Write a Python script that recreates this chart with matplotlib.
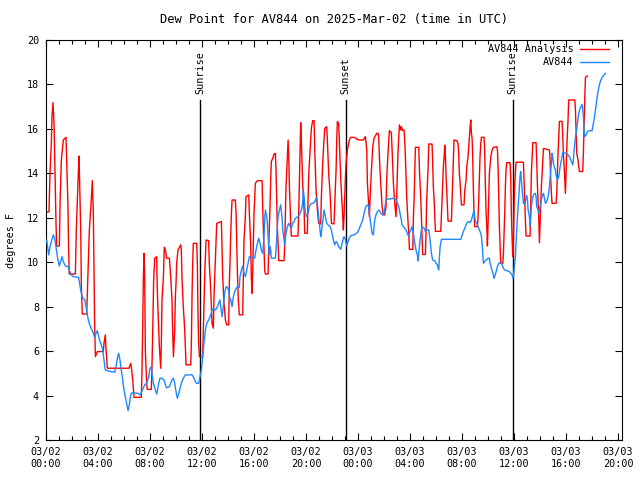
import matplotlib
matplotlib.use('Agg')
import matplotlib.pyplot as plt
import matplotlib.dates as mdates
from datetime import datetime, timedelta

# hours since 2025-03-02 00:00 UTC, dew point in F
analysis_hours = [0.05, 0.23, 0.31, 0.41, 0.46, 0.54, 0.62, 0.69, 0.77, 0.82, 1.03, 1.08, 1.18, 1.33, 1.54, 1.59, 1.69, 1.74, 1.79, 2.26,
    2.33, 2.41, 2.49, 2.54, 2.59, 2.67, 2.72, 2.79, 3.13, 3.18, 3.26, 3.33, 3.49, 3.56, 3.64, 3.69, 3.74, 3.80, 3.95, 4.41,
    4.46, 4.56, 4.62, 4.72, 6.38, 6.51, 6.56, 6.67, 6.77, 7.33, 7.38, 7.44, 7.49, 7.54, 7.59, 7.64, 7.74, 7.79, 8.10, 8.15,
    8.21, 8.28, 8.36, 8.51, 8.56, 8.64, 8.72, 8.82, 8.87, 8.92, 9.03, 9.10, 9.18, 9.28, 9.49, 9.59, 9.69, 9.74, 9.80, 9.90,
    9.95, 10.00, 10.05, 10.15, 10.36, 10.41, 10.46, 10.56, 10.67, 10.77, 11.13, 11.18, 11.23, 11.28, 11.33, 11.59, 11.64, 11.69, 11.74, 11.80,
    12.05, 12.10, 12.21, 12.31, 12.51, 12.56, 12.67, 12.77, 12.87, 12.92, 13.03, 13.13, 13.49, 13.54, 13.59, 13.69, 13.80, 13.90, 14.05, 14.10,
    14.15, 14.21, 14.26, 14.31, 14.56, 14.62, 14.67, 14.72, 14.79, 14.87, 15.13, 15.15, 15.23, 15.33, 15.38, 15.59, 15.64, 15.74, 15.79, 15.85,
    15.90, 16.00, 16.10, 16.26, 16.62, 16.67, 16.77, 16.82, 16.87, 17.08, 17.13, 17.23, 17.28, 17.33, 17.44, 17.54, 17.64, 17.69, 17.74, 17.79,
    17.85, 17.90, 18.31, 18.36, 18.41, 18.46, 18.56, 18.62, 18.67, 18.72, 18.77, 18.82, 18.87, 19.38, 19.44, 19.49, 19.54, 19.59, 19.64, 19.74,
    19.85, 19.90, 20.10, 20.15, 20.21, 20.31, 20.41, 20.51, 20.62, 20.67, 20.77, 20.87, 20.97, 21.13, 21.18, 21.28, 21.38, 21.44, 21.59, 21.64,
    21.74, 21.85, 21.90, 21.95, 22.15, 22.21, 22.31, 22.36, 22.41, 22.51, 22.56, 22.67, 22.77, 22.87, 22.92, 23.03, 23.08, 23.18, 23.33, 23.44,
    23.69, 24.05, 24.41, 24.56, 24.62, 24.67, 24.72, 24.82, 24.87, 24.92, 25.03, 25.13, 25.23, 25.44, 25.54, 25.59, 25.64, 25.74, 25.85, 25.95,
    26.05, 26.15, 26.21, 26.31, 26.41, 26.56, 26.62, 26.72, 26.82, 26.92, 26.97, 27.03, 27.08, 27.13, 27.18, 27.28, 27.33, 27.44, 27.54, 27.59,
    27.64, 27.74, 27.85, 27.90, 27.95, 28.21, 28.26, 28.31, 28.36, 28.41, 28.67, 28.72, 28.82, 28.87, 28.92, 28.97, 29.18, 29.23, 29.28, 29.38,
    29.44, 29.69, 29.74, 29.79, 29.85, 29.90, 29.95, 30.36, 30.41, 30.46, 30.51, 30.56, 30.62, 30.67, 30.72, 30.77, 30.82, 30.87, 30.92, 31.18,
    31.23, 31.28, 31.33, 31.38, 31.59, 31.69, 31.74, 31.79, 31.85, 31.90, 31.95, 32.15, 32.21, 32.31, 32.36, 32.46, 32.56, 32.62, 32.67, 32.72,
    32.77, 32.82, 32.87, 32.92, 32.97, 33.18, 33.23, 33.28, 33.33, 33.38, 33.44, 33.49, 33.69, 33.74, 33.79, 33.85, 33.90, 33.95, 34.00, 34.05,
    34.10, 34.21, 34.31, 34.41, 34.67, 34.72, 34.77, 34.82, 34.87, 34.92, 34.97, 35.13, 35.18, 35.23, 35.28, 35.33, 35.38, 35.44, 35.69, 35.74,
    35.79, 35.85, 35.90, 35.95, 36.00, 36.05, 36.15, 36.72, 36.77, 36.82, 36.87, 36.92, 37.23, 37.28, 37.33, 37.38, 37.44, 37.69, 37.74, 37.79,
    37.85, 37.90, 37.95, 38.00, 38.05, 38.10, 38.21, 38.26, 38.72, 38.77, 38.82, 38.87, 38.92, 39.23, 39.28, 39.33, 39.38, 39.44, 39.49, 39.69,
    39.74, 39.79, 39.85, 39.90, 39.95, 40.00, 40.05, 40.10, 40.15, 40.20, 40.67, 40.72, 40.77, 40.82, 40.92, 40.97, 41.03, 41.28, 41.33, 41.38,
    41.44, 41.49, 41.64]
analysis_dewpt = [12.27, 12.27, 14.08, 15.35, 16.55, 17.18, 16.18, 14.0, 11.75, 10.73, 10.73, 12.65, 14.6, 15.5, 15.62, 14.6, 12.5, 10.55, 9.47, 9.47,
    11.45, 12.8, 14.08, 14.78, 13.55, 11.45, 8.9, 7.67, 7.67, 8.6, 9.95, 11.38, 12.88, 13.67, 12.27, 9.73, 7.25, 5.75, 5.98, 5.98,
    6.35, 6.73, 6.05, 5.23, 5.23, 5.45, 5.3, 4.7, 3.92, 3.92, 5.0, 7.18, 9.35, 10.4, 9.35, 6.05, 4.55, 4.28, 4.28, 5.3,
    6.95, 9.2, 10.18, 10.25, 8.75, 7.4, 6.2, 5.23, 6.35, 8.3, 9.35, 10.67, 10.55, 10.18, 10.18, 9.35, 8.3, 6.95, 5.75, 6.95,
    8.45, 9.05, 9.95, 10.55, 10.78, 10.55, 9.28, 8.0, 6.95, 5.38, 5.38, 6.35, 8.45, 9.95, 10.85, 10.85, 9.95, 7.7, 6.35, 5.75,
    5.75, 6.95, 9.5, 11.0, 10.97, 9.95, 8.75, 7.25, 7.03, 8.45, 10.25, 11.75, 11.83, 10.55, 9.35, 8.15, 7.4, 7.18, 7.18, 9.05,
    9.95, 11.3, 12.2, 12.8, 12.8, 12.2, 10.85, 9.58, 8.3, 7.63, 7.63, 8.45, 11.0, 12.05, 12.95, 13.03, 12.2, 10.85, 9.35, 8.6,
    9.65, 12.2, 13.55, 13.67, 13.67, 12.35, 10.55, 9.65, 9.47, 9.47, 10.7, 12.5, 13.7, 14.53, 14.68, 14.87, 14.9, 14.15, 12.8, 11.6,
    10.85, 10.07, 10.07, 10.85, 12.05, 13.4, 14.75, 15.5, 14.75, 13.4, 12.5, 11.75, 11.18, 11.18, 12.35, 13.7, 15.05, 16.28, 15.43, 13.55,
    12.35, 11.3, 11.3, 12.8, 14.0, 14.98, 16.03, 16.37, 16.37, 15.05, 13.25, 12.35, 11.75, 11.72, 12.95, 14.45, 15.5, 16.03, 16.1, 15.5,
    14.0, 13.1, 12.5, 11.75, 11.72, 12.65, 14.15, 15.5, 16.33, 16.25, 15.5, 13.7, 12.65, 11.45, 12.05, 13.85, 14.45, 15.05, 15.5, 15.62,
    15.62, 15.5, 15.5, 15.65, 15.35, 15.05, 13.55, 12.58, 12.05, 12.8, 14.15, 15.2, 15.58, 15.8, 15.8, 15.65, 14.75, 13.55, 12.5, 12.13,
    12.13, 12.5, 13.85, 14.98, 15.92, 15.83, 15.05, 13.55, 12.65, 12.05, 12.8, 14.15, 15.05, 15.65, 16.18, 15.95, 16.1, 15.92, 15.95, 15.5,
    14.75, 12.95, 11.75, 11.3, 10.58, 10.58, 12.05, 12.8, 14.0, 15.17, 15.17, 14.15, 12.95, 12.05, 11.3, 10.35, 10.35, 11.45, 12.8, 14.15,
    15.32, 15.32, 14.45, 13.4, 12.8, 12.05, 11.39, 11.39, 12.05, 12.8, 13.55, 14.3, 14.75, 15.27, 14.75, 13.85, 13.25, 12.5, 11.85, 11.85,
    12.8, 13.7, 14.75, 15.5, 15.47, 15.35, 14.9, 14.0, 13.55, 13.1, 12.58, 12.58, 13.25, 13.7, 14.3, 14.75, 15.58, 16.1, 16.4, 15.8,
    15.58, 14.75, 13.25, 12.2, 11.6, 11.6, 12.05, 12.8, 13.7, 14.75, 15.35, 15.62, 15.62, 15.05, 13.55, 12.2, 11.6, 10.73, 11.75, 12.95,
    14.0, 14.75, 15.05, 15.17, 15.2, 15.05, 14.3, 12.95, 11.6, 10.85, 9.95, 9.95, 10.4, 11.3, 12.2, 13.4, 14.15, 14.48, 14.48, 13.85,
    12.2, 11.0, 10.25, 11.0, 12.5, 13.55, 14.5, 14.5, 13.6, 12.8, 11.9, 11.18, 11.18, 12.5, 14.0, 14.6, 15.38, 15.38, 14.6, 13.55,
    12.65, 11.9, 10.88, 11.75, 12.5, 13.4, 14.6, 15.12, 15.05, 14.6, 13.7, 13.1, 12.65, 12.65, 13.1, 14.0, 14.9, 15.73, 16.34, 16.34,
    15.73, 14.9, 14.3, 13.7, 13.1, 14.15, 15.05, 15.8, 16.4, 17.3, 17.3, 16.85, 15.8, 14.9, 14.6, 14.3, 14.08, 14.08, 14.9, 16.1,
    17.45, 18.32, 18.38]

obs_hours = [0.05, 0.21, 0.31, 0.41, 0.56, 0.67, 0.77, 0.92, 1.03, 1.13, 1.23, 1.33, 1.49, 1.69, 1.79, 1.95, 2.10, 2.51, 2.62, 2.72,
    2.82, 2.97, 3.08, 3.18, 3.28, 3.44, 3.59, 3.74, 3.85, 3.95, 4.05, 4.15, 4.26, 4.36, 4.46, 4.56, 4.97, 5.28, 5.38, 5.49,
    5.59, 5.69, 5.79, 5.90, 6.00, 6.15, 6.31, 6.41, 6.51, 6.62, 7.08, 7.23, 7.33, 7.44, 7.59, 7.74, 7.90, 8.00, 8.10, 8.15,
    8.26, 8.41, 8.51, 8.56, 8.67, 8.77, 8.92, 9.08, 9.18, 9.28, 9.49, 9.59, 9.69, 9.80, 9.90, 10.00, 10.10, 10.21, 10.31, 10.41,
    10.56, 10.72, 11.23, 11.33, 11.49, 11.59, 11.74, 11.80, 11.95, 12.05, 12.15, 12.26, 12.36, 12.51, 12.67, 12.77, 12.87, 13.03, 13.13, 13.28,
    13.38, 13.44, 13.54, 13.64, 13.74, 13.85, 13.95, 14.05, 14.10, 14.21, 14.31, 14.41, 14.51, 14.67, 14.87, 14.92, 15.03, 15.13, 15.23, 15.33,
    15.44, 15.54, 15.64, 16.05, 16.15, 16.26, 16.36, 16.46, 16.56, 16.67, 16.77, 16.82, 16.87, 16.97, 17.03, 17.08, 17.13, 17.18, 17.23, 17.28,
    17.33, 17.64, 17.69, 17.74, 17.79, 17.85, 17.95, 18.05, 18.15, 18.21, 18.31, 18.36, 18.46, 18.56, 18.67, 18.77, 18.87, 18.97, 19.08, 19.18,
    19.38, 19.49, 19.64, 19.74, 19.79, 19.85, 19.95, 20.05, 20.15, 20.26, 20.36, 20.62, 20.72, 20.82, 20.87, 20.97, 21.08, 21.13, 21.18, 21.23,
    21.33, 21.38, 21.49, 21.59, 21.69, 21.85, 21.95, 22.05, 22.15, 22.21, 22.31, 22.41, 22.51, 22.67, 22.77, 22.87, 22.92, 23.03, 23.13, 23.23,
    23.33, 23.44, 23.69, 23.79, 23.95, 24.05, 24.21, 24.36, 24.46, 24.56, 24.62, 24.77, 24.82, 24.87, 24.97, 25.08, 25.18, 25.23, 25.28, 25.38,
    25.49, 25.59, 25.69, 25.79, 25.90, 26.00, 26.10, 26.15, 26.21, 26.77, 26.92, 27.03, 27.13, 27.23, 27.33, 27.38, 27.54, 27.69, 27.79, 27.90,
    27.95, 28.05, 28.15, 28.26, 28.36, 28.46, 28.56, 28.62, 28.67, 28.77, 28.87, 28.92, 29.08, 29.18, 29.28, 29.44, 29.54, 29.64, 29.74, 29.90,
    30.00, 30.10, 30.21, 30.26, 30.31, 30.41, 31.90, 32.05, 32.15, 32.26, 32.36, 32.46, 32.62, 32.72, 32.82, 32.92, 32.97, 33.03, 33.13, 33.23,
    33.33, 33.44, 33.49, 33.54, 33.59, 33.64, 33.74, 33.85, 34.00, 34.10, 34.15, 34.26, 34.36, 34.46, 34.51, 34.62, 34.72, 34.82, 34.92, 35.03,
    35.18, 35.28, 35.44, 35.64, 35.74, 35.85, 35.90, 35.95, 36.00, 36.10, 36.15, 36.26, 36.36, 36.46, 36.51, 36.56, 36.62, 36.72, 36.82, 36.92,
    36.97, 37.03, 37.08, 37.18, 37.23, 37.28, 37.33, 37.44, 37.54, 37.64, 37.69, 37.74, 37.85, 37.90, 37.95, 38.05, 38.15, 38.26, 38.31, 38.41,
    38.51, 38.62, 38.72, 38.82, 38.87, 38.92, 38.97, 39.03, 39.08, 39.18, 39.23, 39.33, 39.44, 39.54, 39.64, 39.74, 40.05, 40.26, 40.36, 40.46,
    40.51, 40.56, 40.62, 40.72, 40.82, 40.87, 40.97, 41.08, 41.23, 41.28, 41.33, 41.38, 41.44, 41.54, 41.64, 41.79, 42.00, 42.05, 42.15, 42.26,
    42.36, 42.46, 42.56, 42.67, 42.82, 42.92, 43.03]
obs_dewpt = [11.0, 10.33, 10.7, 10.93, 11.23, 11.08, 10.7, 10.1, 9.83, 10.03, 10.25, 10.03, 9.83, 9.8, 9.65, 9.43, 9.35, 9.32, 8.9, 8.6,
    8.38, 8.33, 8.0, 7.63, 7.33, 7.07, 6.88, 6.62, 6.8, 6.92, 6.65, 6.43, 6.28, 6.05, 5.6, 5.15, 5.08, 5.05, 5.3, 5.68,
    5.9, 5.6, 5.15, 4.7, 4.25, 3.8, 3.32, 3.58, 4.03, 4.13, 4.1, 4.03, 4.13, 4.28, 4.48, 4.55, 4.85, 5.23, 5.3, 5.0,
    4.55, 4.25, 4.07, 4.18, 4.55, 4.78, 4.78, 4.7, 4.48, 4.35, 4.4, 4.55, 4.7, 4.78, 4.55, 4.18, 3.88, 4.07, 4.33, 4.55,
    4.78, 4.93, 4.93, 4.85, 4.63, 4.55, 4.55, 4.7, 5.15, 5.75, 6.35, 6.95, 7.25, 7.4, 7.63, 7.85, 7.93, 7.85, 7.93, 8.15,
    8.3, 8.0, 7.55, 8.0, 8.6, 8.9, 8.87, 8.75, 8.45, 8.3, 8.0, 8.45, 8.68, 8.87, 8.87, 9.35, 9.65, 9.83, 9.5, 9.35,
    9.65, 9.95, 10.25, 10.18, 10.55, 10.85, 11.08, 10.85, 10.55, 10.4, 11.15, 11.9, 12.35, 12.05, 11.75, 11.15, 10.7, 10.33, 10.7, 10.55,
    10.18, 10.18, 10.55, 11.0, 11.6, 12.05, 12.35, 12.58, 12.05, 11.45, 11.0, 10.78, 11.3, 11.6, 11.75, 11.6, 11.53, 11.75, 11.83, 11.98,
    12.05, 12.13, 12.35, 12.65, 13.25, 12.95, 12.2, 12.05, 12.2, 12.5, 12.62, 12.68, 12.8, 12.92, 12.65, 12.05, 11.45, 11.15, 11.3, 11.6,
    12.05, 12.35, 12.05, 11.75, 11.68, 11.6, 11.45, 11.15, 10.88, 10.78, 10.93, 10.85, 10.7, 10.58, 10.85, 11.08, 11.15, 11.0, 10.73, 10.93,
    11.08, 11.2, 11.23, 11.27, 11.33, 11.45, 11.68, 11.9, 12.2, 12.43, 12.53, 12.58, 12.5, 12.2, 11.75, 11.3, 11.23, 11.6, 11.9, 12.13,
    12.28, 12.35, 12.28, 12.17, 12.13, 12.2, 12.58, 12.8, 12.83, 12.88, 12.8, 12.65, 12.5, 12.2, 11.9, 11.68, 11.57, 11.45, 11.3, 11.15,
    11.3, 11.45, 11.6, 11.3, 10.85, 10.55, 10.33, 10.07, 10.4, 11.0, 11.45, 11.6, 11.53, 11.38, 11.45, 11.45, 11.0, 10.4, 10.1, 10.07,
    9.95, 9.88, 9.65, 10.25, 10.7, 11.03, 11.03, 11.3, 11.45, 11.6, 11.75, 11.83, 11.78, 11.9, 12.13, 12.35, 12.05, 11.83, 11.75, 11.6,
    11.45, 11.3, 11.15, 10.85, 10.4, 9.95, 10.03, 10.1, 10.18, 10.18, 9.95, 9.73, 9.53, 9.28, 9.35, 9.58, 9.8, 9.95, 9.98, 9.95,
    9.73, 9.65, 9.62, 9.58, 9.5, 9.43, 9.28, 9.35, 9.65, 10.25, 10.85, 12.05, 12.95, 13.85, 14.08, 13.7, 13.25, 12.65, 12.6, 12.9,
    13.0, 12.8, 12.35, 12.05, 11.63, 12.05, 12.5, 12.95, 13.07, 13.1, 12.95, 12.5, 12.35, 12.2, 12.35, 12.65, 12.95, 13.1, 12.95, 12.65,
    12.73, 12.95, 13.4, 14.15, 14.45, 14.9, 14.75, 14.45, 14.3, 14.15, 13.93, 13.7, 13.85, 14.3, 14.6, 14.93, 14.9, 14.75, 14.6, 14.45,
    14.38, 14.6, 15.05, 15.65, 15.95, 16.25, 16.7, 16.93, 17.1, 16.93, 16.55, 15.95, 15.65, 15.73, 15.88, 15.92, 15.92, 16.1, 16.4, 16.85,
    17.3, 17.68, 17.98, 18.2, 18.35, 18.43, 18.5]

sun_hours = [11.85, 23.05, 35.88]
sun_labels = ['Sunrise', 'Sunset', 'Sunrise']

start = datetime(2025, 3, 2)
def to_time(hours):
    return [start + timedelta(hours=h) for h in hours]

plt.rcParams['font.family'] = 'DejaVu Sans Mono'
plt.rcParams['font.size'] = 7.3

fig = plt.figure(figsize=(6.4, 4.8), dpi=100)
ax = fig.add_axes([46/640, 40/480, 576/640, 400/480])

for h, lab in zip(sun_hours, sun_labels):
    t = start + timedelta(hours=h)
    ax.plot([t, t], [2, 17.3], color='black', lw=1.0, zorder=1)
    ax.text(t, 17.55, lab, rotation=90, ha='center', va='bottom')

ax.plot(to_time(analysis_hours), analysis_dewpt, color='#ff0000', lw=1.0, label='AV844 Analysis', zorder=2)
ax.plot(to_time(obs_hours), obs_dewpt, color='#1e88ff', lw=1.0, label='AV844', zorder=3)

ax.set_xlim(start, start + timedelta(hours=44.3))
ax.set_ylim(2, 20)
ax.set_yticks(range(2, 21, 2))
ax.xaxis.set_major_locator(mdates.HourLocator(byhour=[0, 4, 8, 12, 16, 20]))
ax.xaxis.set_minor_locator(mdates.HourLocator())
ax.xaxis.set_major_formatter(mdates.DateFormatter('%m/%d\n%H:%M'))
ax.tick_params(which='both', direction='in', top=True, right=True, width=0.8)
ax.tick_params(which='major', length=5, pad=5)
ax.tick_params(which='minor', length=3)
for s in ax.spines.values():
    s.set_linewidth(0.8)

ax.set_ylabel('degrees F', labelpad=8)
ax.set_title('Dew Point for AV844 on 2025-Mar-02 (time in UTC)', pad=12)
ax.legend(loc='upper right', bbox_to_anchor=(1 - 6/576, 1 + 3/400), frameon=False, markerfirst=False,
          handlelength=2.9, handletextpad=0.6, labelspacing=0.3, borderaxespad=0.3)

fig.savefig('out.png', dpi=100)
